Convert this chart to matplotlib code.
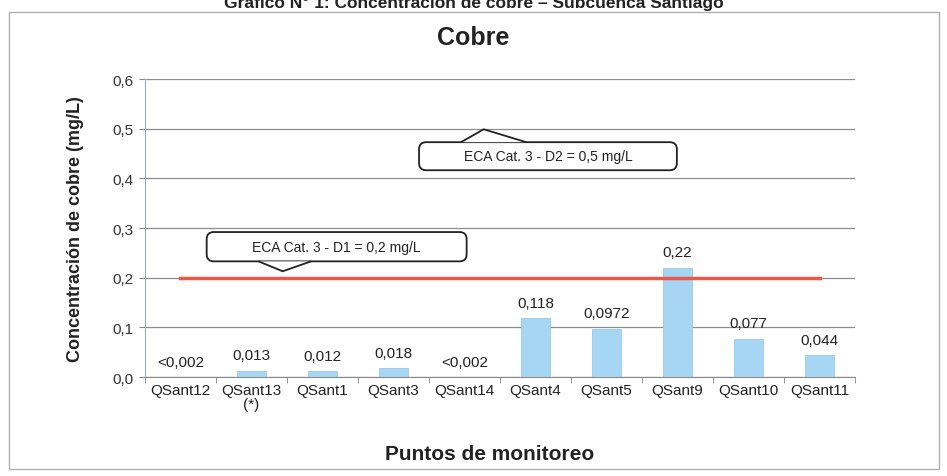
import matplotlib.pyplot as plt
import numpy as np
from matplotlib.patches import FancyBboxPatch, Polygon, Rectangle

plt.rcParams['font.family'] = ['Liberation Sans', 'DejaVu Sans']

# datos
puntos = ['QSant12', 'QSant13\n(*)', 'QSant1', 'QSant3', 'QSant14',
          'QSant4', 'QSant5', 'QSant9', 'QSant10', 'QSant11']
valores = [0.0, 0.013, 0.012, 0.018, 0.0, 0.118, 0.0972, 0.22, 0.077, 0.044]
etiquetas = ['<0,002', '0,013', '0,012', '0,018', '<0,002',
             '0,118', '0,0972', '0,22', '0,077', '0,044']
eca_d1 = 0.2
eca_d2 = 0.5
y_ticks = [0.0, 0.1, 0.2, 0.3, 0.4, 0.5, 0.6]
y_tick_labels = ['0,0', '0,1', '0,2', '0,3', '0,4', '0,5', '0,6']


def callout(ax, x0, x1, y0, y1, pts, texto):
    # caja redondeada con una punta (tipo globo)
    caja = FancyBboxPatch((x0, y0), x1 - x0, y1 - y0,
                          boxstyle='round,pad=0,rounding_size=0.1',
                          mutation_aspect=0.1425, transform=ax.transData,
                          facecolor='white', edgecolor='#222222', lw=1.3, zorder=5)
    ax.add_patch(caja)
    ax.add_patch(Polygon(pts, closed=False, facecolor='white', edgecolor='none', zorder=6))
    xs = [p[0] for p in pts]
    ys = [p[1] for p in pts]
    ax.plot(xs, ys, color='#222222', lw=1.3, zorder=7, solid_capstyle='butt')
    ax.text((x0 + x1) / 2, (y0 + y1) / 2, texto, ha='center', va='center',
            fontsize=10, color='#222222', zorder=8)


def main():
    fig = plt.figure(figsize=(9.47, 4.77), dpi=100)
    ax = fig.add_axes([0.153, 0.2075, 0.75, 0.6245])

    x = np.arange(len(puntos))
    ax.bar(x, valores, width=0.4, color='#a6d6f4', edgecolor='#8cc4e8', lw=0.5, zorder=3)

    for xi, v, t in zip(x, valores, etiquetas):
        ax.annotate(t, (xi, v), xytext=(0, 6), textcoords='offset points',
                    ha='center', va='bottom', fontsize=11, color='#222222', zorder=4)

    # linea ECA D1
    ax.plot([x[0], x[-1]], [eca_d1, eca_d1], color='#e8594b', lw=2.5, zorder=4)

    ax.set_xlim(-0.5, len(puntos) - 0.5)
    ax.set_ylim(0, 0.6)
    ax.set_yticks(y_ticks)
    ax.set_yticklabels(y_tick_labels, fontsize=11, color='#333333')
    ax.set_xticks(x)
    ax.set_xticklabels(puntos, fontsize=11, color='#222222', linespacing=1.0)
    ax.set_xticks(np.arange(-0.5, len(puntos)), minor=True)
    ax.tick_params(axis='x', which='major', length=0, pad=4)
    ax.tick_params(axis='x', which='minor', length=4, color='#888888')
    ax.tick_params(axis='y', length=4, color='#888888', pad=4)

    ax.grid(axis='y', color='#8e8e8e', lw=0.9, zorder=0)
    ax.set_axisbelow(True)
    for s in ['top', 'right']:
        ax.spines[s].set_visible(False)
    ax.spines['left'].set_color('#9aaabb')
    ax.spines['bottom'].set_color('#888888')

    # globos
    callout(ax, 3.36, 6.99, 0.4165, 0.473,
            [(3.95, 0.473), (4.27, 0.499), (4.87, 0.473)],
            'ECA Cat. 3 - D2 = 0,5 mg/L')
    callout(ax, 0.37, 4.03, 0.233, 0.292,
            [(1.1, 0.233), (1.44, 0.213), (1.84, 0.233)],
            'ECA Cat. 3 - D1 = 0,2 mg/L')

    ax.set_ylabel('Concentración de cobre (mg/L)', fontsize=13, fontweight='bold', color='#222222')
    ax.yaxis.set_label_coords(-0.086, 0.5)
    ax.set_xlabel('Puntos de monitoreo', fontsize=15, fontweight='bold', color='#222222')
    ax.xaxis.set_label_coords(0.486, -0.225)

    fig.text(0.5, 0.92, 'Cobre', ha='center', va='center', fontsize=18,
             fontweight='bold', color='#222222')
    # titulo superior, cortado en el borde como en el original
    fig.text(0.5, 0.994, 'Gráfico N° 1: Concentración de cobre – Subcuenca Santiago',
             ha='center', va='center', fontsize=12.5, fontweight='bold', color='#222222')

    # marco del grafico
    fig.patches.append(Rectangle((0.009, 0.015), 0.983, 0.958, transform=fig.transFigure,
                                 fill=False, edgecolor='#b0b0b0', lw=1.0))

    fig.savefig('out.png', dpi=100)


if __name__ == "__main__":
    main()
